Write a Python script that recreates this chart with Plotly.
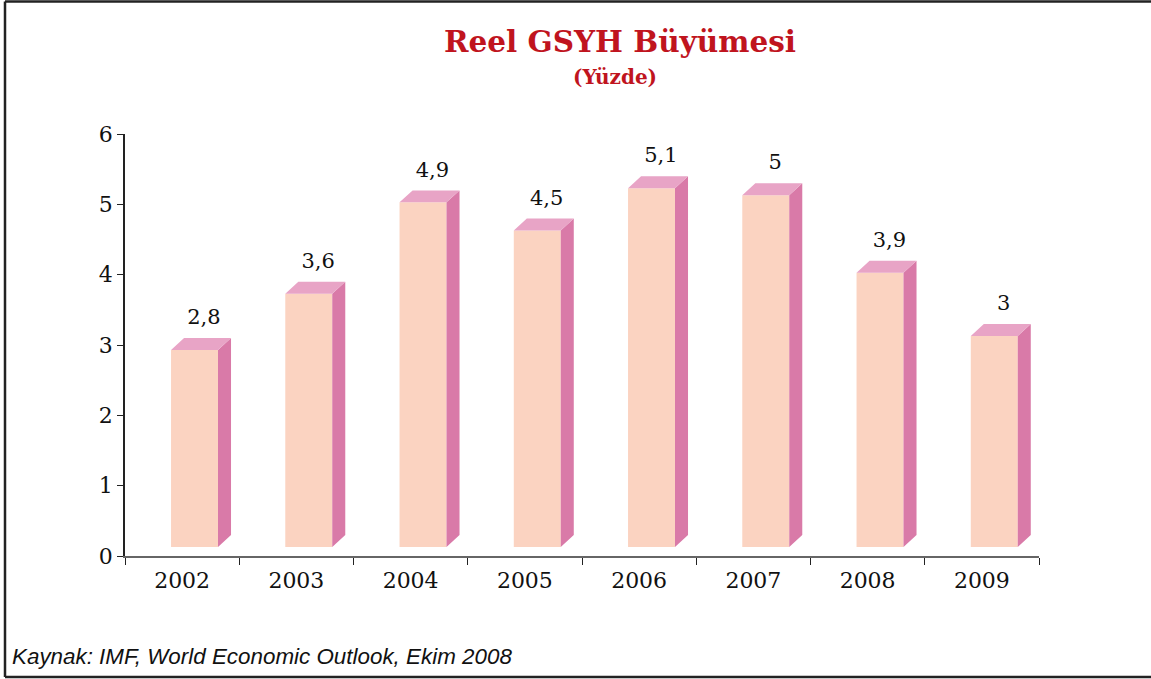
import plotly.graph_objects as go

years = ["2002", "2003", "2004", "2005", "2006", "2007", "2008", "2009"]
growth = [2.8, 3.6, 4.9, 4.5, 5.1, 5.0, 3.9, 3.0]
labels = ["2,8", "3,6", "4,9", "4,5", "5,1", "5", "3,9", "3"]

FRONT = "#FBD3C1"
SIDE = "#D97AA8"
TOP = "#E8A4C6"

# 3D bar geometry (in axis units)
fl, fr = -0.097, 0.314
ddx, ddy = 0.114, 0.17
base = 0.128

front_x, front_y, side_x, side_y, top_x, top_y = [], [], [], [], [], []
for i, v in enumerate(growth):
    x0, x1 = i + fl, i + fr
    yb, yt = base, base + v
    front_x += [x0, x1, x1, x0, x0, None]
    front_y += [yb, yb, yt, yt, yb, None]
    side_x += [x1, x1 + ddx, x1 + ddx, x1, x1, None]
    side_y += [yb, yb + ddy, yt + ddy, yt, yb, None]
    top_x += [x0, x1, x1 + ddx, x0 + ddx, x0, None]
    top_y += [yt, yt, yt + ddy, yt + ddy, yt, None]

fig = go.Figure()
# category anchor trace (invisible)
fig.add_trace(go.Scatter(x=years, y=growth, mode="markers", marker=dict(opacity=0),
                         hoverinfo="skip", showlegend=False, xaxis="x", yaxis="y"))
for xs, ys, col in [(front_x, front_y, FRONT), (side_x, side_y, SIDE), (top_x, top_y, TOP)]:
    fig.add_trace(go.Scatter(x=xs, y=ys, mode="lines", fill="toself", fillcolor=col,
                             line=dict(width=0, color=col), hoverinfo="skip",
                             showlegend=False, xaxis="x2", yaxis="y"))
fig.add_trace(go.Scatter(x=[i + 0.19 for i in range(len(growth))],
                         y=[v + 0.57 for v in growth], mode="text", text=labels,
                         textposition="middle center",
                         textfont=dict(family="DejaVu Serif", size=21, color="#111"),
                         hoverinfo="skip", showlegend=False, xaxis="x2", yaxis="y"))

pl, pr, pt, pb = 125, 112, 134, 123
W, H = 1151, 679
pw, ph = W - pl - pr, H - pt - pb

def px(x):
    return (x - pl) / pw

def py(y):
    return (H - pb - y) / ph

border = dict(color="#222", width=2.5)
fig.update_layout(
    width=W, height=H,
    margin=dict(l=pl, r=pr, t=pt, b=pb),
    paper_bgcolor="white", plot_bgcolor="white",
    xaxis=dict(type="category", categoryorder="array", categoryarray=years,
               range=[-0.5, 7.5], tickson="boundaries", ticks="outside", ticklen=7,
               tickcolor="#222", showline=True, linecolor="#666", linewidth=1.5,
               showgrid=False, zeroline=False, ticklabelstandoff=4,
               tickfont=dict(family="DejaVu Serif", size=22, color="#111")),
    xaxis2=dict(overlaying="x", anchor="y", range=[-0.5, 7.5], visible=False),
    yaxis=dict(range=[0, 6], dtick=1, ticks="outside", ticklen=6, tickcolor="#222",
               showline=True, linecolor="#222", linewidth=1.5, showgrid=False,
               zeroline=False,
               tickfont=dict(family="DejaVu Serif", size=22, color="#111")),
    annotations=[
        dict(text="<b>Reel GSYH Büyümesi</b>", x=px(620), y=py(42), xref="paper", yref="paper",
             showarrow=False, xanchor="center", yanchor="middle",
             font=dict(family="DejaVu Serif", size=29.5, color="#C0141E")),
        dict(text="<b>(Yüzde)</b>", x=px(615), y=py(77), xref="paper", yref="paper",
             showarrow=False, xanchor="center", yanchor="middle",
             font=dict(family="DejaVu Serif", size=20, color="#C0141E")),
        dict(text="<i>Kaynak: IMF, World Economic Outlook, Ekim 2008</i>", x=px(10), y=py(656),
             xref="paper", yref="paper", showarrow=False, xanchor="left", yanchor="middle",
             font=dict(family="Liberation Sans", size=22.4, color="#111")),
    ],
    shapes=[
        dict(type="line", xref="paper", yref="paper", x0=px(5), x1=px(1151),
             y0=py(1.5), y1=py(1.5), line=border),
        dict(type="line", xref="paper", yref="paper", x0=px(5), x1=px(1151),
             y0=py(677), y1=py(677), line=border),
        dict(type="line", xref="paper", yref="paper", x0=px(5), x1=px(5),
             y0=py(1.5), y1=py(677), line=border),
    ],
)

fig.write_html("out.html", config={"displayModeBar": False},
               post_script="document.body.style.margin='0';document.body.style.overflow='hidden';")
